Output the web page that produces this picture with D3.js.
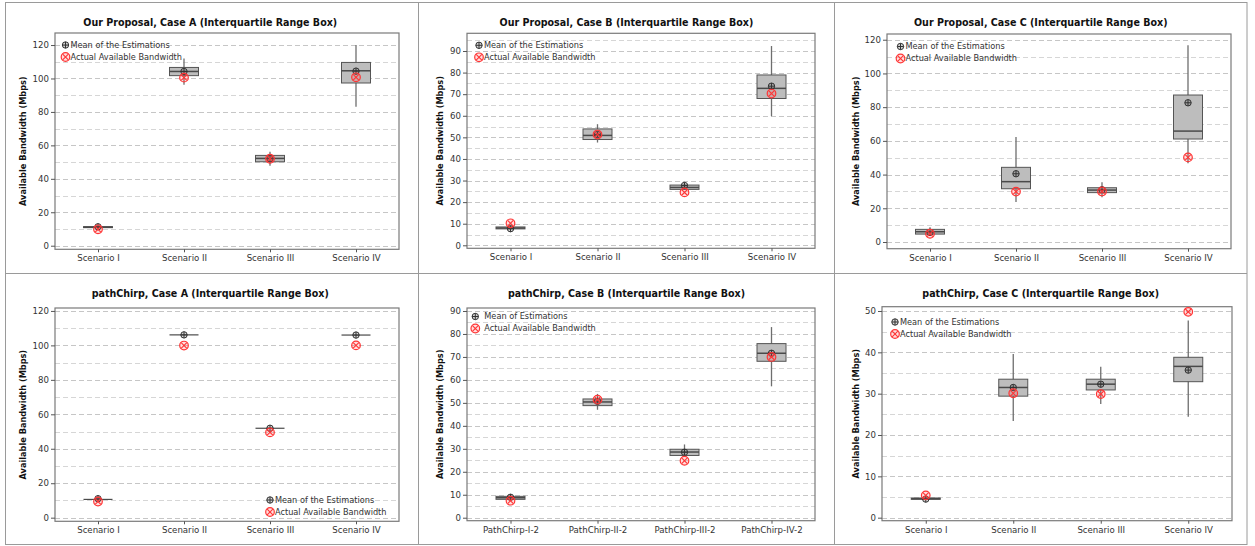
<!DOCTYPE html>
<html>
<head>
<meta charset="utf-8">
<script src="https://cdn.jsdelivr.net/npm/d3@7"></script>
<style>
  html, body { margin: 0; padding: 0; background: #fff; }
  svg { display: block; font-family: "DejaVu Sans", Verdana, sans-serif; }
</style>
</head>
<body>
<svg id="chart" width="1255" height="546"></svg>
<script>
// ── Daten ────────────────────────────────────────────────────
const scenarioCats  = ['Scenario I', 'Scenario II', 'Scenario III', 'Scenario IV'];
const pathChirpCats = ['PathChirp-I-2', 'PathChirp-II-2', 'PathChirp-III-2', 'PathChirp-IV-2'];

// je Kategorie: [Whisker unten, Q1, Median, Q3, Whisker oben]
const oursA_box    = [[10.6, 10.8, 11.1, 11.4, 11.8], [96.3, 101.7, 104.2, 106.6, 112], [47.8, 50.2, 52.2, 54.0, 56.2], [83.1, 97.3, 104.6, 109.6, 120]];
const oursA_mean   = [11.3, 104.2, 52.0, 104.4];
const oursA_actual = [9.8, 100.5, 52.0, 100.7];

const oursB_box    = [[7.4, 7.6, 8.0, 8.5, 8.7], [47.6, 49.0, 50.9, 53.9, 56.1], [25.6, 25.9, 26.8, 27.9, 28.7], [59.8, 68.0, 72.7, 78.9, 92.3]];
const oursB_mean   = [7.7, 51.3, 27.7, 73.7];
const oursB_actual = [10.2, 51.3, 24.5, 70.3];

const oursC_box    = [[4.3, 4.7, 6.1, 7.5, 8.7], [23.7, 31.6, 35.8, 44.3, 62.3], [26.5, 29.3, 30.8, 32.2, 35.4], [46.7, 61.1, 65.8, 87.2, 116.8]];
const oursC_mean   = [5.7, 40.5, 31.0, 82.6];
const oursC_actual = [4.9, 29.9, 30.0, 50.2];

const chirpA_box    = [[10.6, 10.6, 10.6, 10.6, 10.6], [106.1, 106.1, 106.1, 106.1, 106.1], [51.9, 51.9, 51.9, 51.9, 51.9], [106.0, 106.0, 106.0, 106.0, 106.0]];
const chirpA_mean   = [11.0, 106.1, 51.9, 106.0];
const chirpA_actual = [9.4, 99.9, 49.5, 100.0];

const chirpB_box    = [[7.8, 8.0, 8.7, 9.3, 9.6], [47.0, 48.8, 50.4, 51.7, 53.9], [27.1, 27.1, 28.6, 29.8, 31.9], [57.2, 68.1, 71.6, 75.8, 83.0]];
const chirpB_mean   = [8.9, 50.7, 28.5, 71.6];
const chirpB_actual = [7.4, 51.4, 24.8, 70.0];

const chirpC_box    = [[4.4, 4.44, 4.6, 4.76, 4.8], [23.4, 29.4, 31.5, 33.5, 39.6], [27.5, 30.9, 32.3, 33.5, 36.5], [24.4, 32.9, 36.6, 38.8, 47.7]];
const chirpC_mean   = [4.5, 31.5, 32.3, 35.7];
const chirpC_actual = [5.4, 30.1, 29.9, 49.8];

const legendMean   = 'Mean of the Estimations';
const legendMeanB  = 'Mean of Estimations';
const legendActual = 'Actual Available Bandwidth';
const yAxisTitle   = 'Available Bandwidth (Mbps)';

// ── Layout (Panels) ──────────────────────────────────────────
const colX = [2, 418.5, 834.5, 1247];
const rowY = [2.5, 273.5, 544.5];

const panels = [
  { title: 'Our Proposal, Case A (Interquartile Range Box)', cats: scenarioCats, box: oursA_box, mean: oursA_mean, actual: oursA_actual,
    col: 0, row: 0, plot: [55, 33, 399, 249.3], dom: [-2.15, 127.2], tick: 20, grid: 10,
    leg: { x: 10.5, y: 12, gap: 5, pos: 'top', mean: legendMean } },
  { title: 'Our Proposal, Case B (Interquartile Range Box)', cats: scenarioCats, box: oursB_box, mean: oursB_mean, actual: oursB_actual,
    col: 1, row: 0, plot: [467, 33.3, 815, 248.3], dom: [-1.39, 98.2], tick: 10, grid: 5,
    leg: { x: 12, y: 12, gap: 5, pos: 'top', mean: legendMean } },
  { title: 'Our Proposal, Case C (Interquartile Range Box)', cats: scenarioCats, box: oursC_box, mean: oursC_mean, actual: oursC_actual,
    col: 2, row: 0, plot: [887, 34, 1231, 248.7], dom: [-3.97, 123.4], tick: 20, grid: 10,
    leg: { x: 13.5, y: 12.5, gap: 5, pos: 'top', mean: legendMean } },
  { title: 'pathChirp, Case A (Interquartile Range Box)', cats: scenarioCats, box: chirpA_box, mean: chirpA_mean, actual: chirpA_actual,
    col: 0, row: 1, plot: [55, 308, 399, 521.3], dom: [-2.1, 121.7], tick: 20, grid: 10,
    leg: { x: 215, y: -21.3, gap: 5, pos: 'bottom', mean: legendMean } },
  { title: 'pathChirp, Case B (Interquartile Range Box)', cats: pathChirpCats, box: chirpB_box, mean: chirpB_mean, actual: chirpB_actual,
    col: 1, row: 1, plot: [467, 308, 815, 520.7], dom: [-1.3, 91.3], tick: 10, grid: 5,
    leg: { x: 8.3, y: 8.5, gap: 9, pos: 'top', mean: legendMeanB } },
  { title: 'pathChirp, Case C (Interquartile Range Box)', cats: scenarioCats, box: chirpC_box, mean: chirpC_mean, actual: chirpC_actual,
    col: 2, row: 1, plot: [882, 306.7, 1232, 520.7], dom: [-0.73, 51.04], tick: 10, grid: 5,
    leg: { x: 13, y: 15.3, gap: 5, pos: 'top', mean: legendMean } },
];

const BOX_W = 29;
const RED = '#ff3535';

const svg = d3.select('#chart');
svg.append('rect').attr('width', 1255).attr('height', 546).attr('fill', '#fff');

// Rahmen um die Einzelbilder
const frame = svg.append('g').attr('stroke', '#9a9a9a').attr('stroke-width', 1).attr('fill', 'none');
frame.append('rect').attr('x', 5.5).attr('y', rowY[0]).attr('width', colX[3] - 5.5).attr('height', rowY[2] - rowY[0]);
[colX[1], colX[2]].forEach(x => frame.append('line').attr('x1', x).attr('x2', x).attr('y1', rowY[0]).attr('y2', rowY[2]));
frame.append('line').attr('x1', 5.5).attr('x2', colX[3]).attr('y1', rowY[1]).attr('y2', rowY[1]);

function meanMarker(g, cx, cy) {
  const r = 3.2;
  g.append('circle').attr('cx', cx).attr('cy', cy).attr('r', r)
    .attr('fill', 'rgba(90,90,90,0.25)').attr('stroke', '#333').attr('stroke-width', 1);
  g.append('path').attr('d', `M${cx - r},${cy}H${cx + r}M${cx},${cy - r}V${cy + r}`)
    .attr('stroke', '#333').attr('stroke-width', 1);
}

function actualMarker(g, cx, cy) {
  const r = 4.3, k = r * 0.66;
  g.append('circle').attr('cx', cx).attr('cy', cy).attr('r', r)
    .attr('fill', 'rgba(255,90,90,0.2)').attr('stroke', RED).attr('stroke-width', 1.2);
  g.append('path').attr('d', `M${cx - k},${cy - k}L${cx + k},${cy + k}M${cx - k},${cy + k}L${cx + k},${cy - k}`)
    .attr('stroke', RED).attr('stroke-width', 1.1);
}

panels.forEach(p => {
  const [l, t, r, b] = p.plot;
  const g = svg.append('g');
  const x = d3.scalePoint().domain(p.cats).range([l, r]).padding(0.5);
  const y = d3.scaleLinear().domain(p.dom).range([b, t]);
  const yMaxTick = Math.floor(p.dom[1] / p.tick) * p.tick;

  // Gitterlinien
  g.append('g').selectAll('line')
    .data(d3.range(0, p.dom[1], p.grid))
    .join('line')
    .attr('x1', l).attr('x2', r)
    .attr('y1', d => Math.round(y(d)) + 0.5).attr('y2', d => Math.round(y(d)) + 0.5)
    .attr('stroke', d => d % p.tick === 0 ? '#c6c6c6' : '#d6d6d6')
    .attr('stroke-dasharray', '5,3');

  // Plotrahmen
  g.append('rect').attr('x', l).attr('y', t).attr('width', r - l).attr('height', b - t)
    .attr('fill', 'none').attr('stroke', '#7a7a7a').attr('stroke-width', 1.2);

  // Achsen
  const yAx = g.append('g').attr('transform', `translate(${l},0)`)
    .call(d3.axisLeft(y).tickValues(d3.range(0, yMaxTick + 0.001, p.tick)).tickSize(4).tickPadding(2).tickFormat(d3.format('d')));
  const xAx = g.append('g').attr('transform', `translate(0,${b})`)
    .call(d3.axisBottom(x).tickSize(3).tickPadding(3));
  [yAx, xAx].forEach(a => {
    a.select('.domain').remove();
    a.selectAll('line').attr('stroke', '#555');
    a.selectAll('text').attr('fill', '#333').attr('font-size', 8.6)
      .attr('font-family', '"DejaVu Sans", Verdana, sans-serif');
  });

  // Titel
  const cx = (colX[p.col] + colX[p.col + 1]) / 2;
  g.append('text').attr('x', cx).attr('y', rowY[p.row] + 23)
    .attr('text-anchor', 'middle').attr('font-size', 10.6).attr('font-weight', 'bold')
    .attr('font-family', '"DejaVu Sans Condensed", "DejaVu Sans", sans-serif')
    .attr('font-stretch', 'condensed').attr('fill', '#111')
    .text(p.title);

  // y-Achsentitel
  g.append('text')
    .attr('transform', `translate(${colX[p.col] + 21},${(t + b) / 2}) rotate(-90)`)
    .attr('text-anchor', 'middle').attr('dy', '0.35em')
    .attr('font-size', 9.1).attr('font-weight', 'bold')
    .attr('font-family', '"DejaVu Sans Condensed", "DejaVu Sans", sans-serif')
    .attr('font-stretch', 'condensed').attr('fill', '#111')
    .text(yAxisTitle);

  // Boxplots
  const boxes = g.append('g');
  p.cats.forEach((c, i) => {
    const [lo, q1, med, q3, hi] = p.box[i];
    const xc = x(c);
    boxes.append('line').attr('x1', xc).attr('x2', xc).attr('y1', y(lo)).attr('y2', y(hi))
      .attr('stroke', '#6e6e6e').attr('stroke-width', 1.3);
    const h = y(q1) - y(q3);
    if (h > 0.8) {
      boxes.append('rect').attr('x', xc - BOX_W / 2).attr('y', y(q3)).attr('width', BOX_W).attr('height', h)
        .attr('fill', '#bdbdbd').attr('stroke', '#555').attr('stroke-width', 1);
    }
    boxes.append('line').attr('x1', xc - BOX_W / 2).attr('x2', xc + BOX_W / 2).attr('y1', y(med)).attr('y2', y(med))
      .attr('stroke', '#4a4a4a').attr('stroke-width', h > 0.8 ? 1.5 : 1.2);
  });

  const marks = g.append('g');
  p.cats.forEach((c, i) => meanMarker(marks, x(c), y(p.mean[i])));
  p.cats.forEach((c, i) => actualMarker(marks, x(c), y(p.actual[i])));

  // Legende
  const lx = l + p.leg.x;
  const ly = p.leg.pos === 'top' ? t + p.leg.y : b + p.leg.y;
  const leg = g.append('g');
  meanMarker(leg, lx, ly);
  actualMarker(leg, lx, ly + 12);
  [[p.leg.mean, ly], [legendActual, ly + 12]].forEach(([txt, yy]) => {
    leg.append('text').attr('x', lx + p.leg.gap).attr('y', yy).attr('dy', '0.35em')
      .attr('font-size', 8.2).attr('fill', '#333').text(txt);
  });
});
</script>
</body>
</html>
